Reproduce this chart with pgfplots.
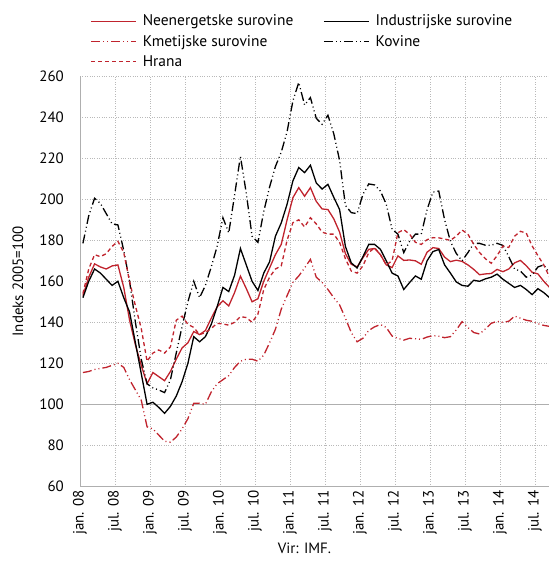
\documentclass[border=0pt]{standalone}
\usepackage{fontspec}
\setmainfont{PT Sans}
\usepackage{pgfplots}
\usepackage{pgfplotstable}
\pgfplotsset{compat=1.18}
\definecolor{cred}{RGB}{192,35,45}
\definecolor{gridgray}{RGB}{185,185,185}
\definecolor{axgray}{RGB}{175,175,175}

\pgfplotstableread{
k ne ind hr kov km
0 153 152 154 178.5 115.5
1 162 160 166 192 116
2 168.5 166 173 200.5 117
3 167 164 172 198 117.5
4 166 161 173.5 193 118
5 167.5 158 177 188 119
6 168 160 179.5 187.5 120
7 157 152 174 175 118
8 141 145 160 160 112
9 129 130 148 140 107
10 119 115 137 122 102
11 110 100 121 110 89
12 115.5 101 125 108 88
13 113.5 98.5 126.5 107 85
14 111.5 95.6 125 105.7 82
15 116 99 128 112 81.5
16 122 104 141 125 84
17 127.5 111 143 138 88
18 130 120 139 150 93
19 135.5 133 137.5 160 100.5
20 134 130.5 134 152 100.5
21 136 133 135 158 100
22 142 139 137 167 106
23 147.5 147.5 139.5 177 110
24 150.5 157 139.2 191 112
25 148 155 138.6 183.6 114
26 154.5 163 140 202 118
27 162.5 176 142.8 221 121
28 156.5 168 142.3 203 122
29 150 160 140 182 122
30 151.5 155.5 144 179 121
31 160 164 156 194 124
32 166.5 169.5 162 206 130
33 173 182 166 216 136.6
34 178 188.5 167.5 223 146.4
35 190 197.6 180 233 153
36 200.8 209 188.6 248 159.5
37 205.7 215.5 190 257 162.6
38 201.5 213 186.5 246 166.5
39 205.7 216.6 191 249.6 170.7
40 199 208 188 239.5 162
41 195.3 205 184 236.6 159.5
42 195 207.3 183 241 156
43 190.5 201 183 232 152
44 184 195 179 219 148.5
45 173.5 177 171 197 142
46 168.3 169 165 193.5 135
47 167 166.5 164 193 130.5
48 171.5 172 167.5 202.4 132.2
49 175.6 178 174 207.5 136
50 176 178 176.4 207 137.8
51 173 175.6 173 204 138.9
52 168 170 168 197.6 137.5
53 166.7 164 170 185.4 133.3
54 172.4 162.6 183.7 183 132.2
55 170.2 156 185.2 174 131.3
56 170.4 159.4 183 179.5 132.2
57 170 162.6 179 183 132
58 168.3 161 178 183 131.7
59 174.2 170 180.3 195 132.8
60 176.4 174.5 181.3 203.5 133.5
61 176 175.5 181.2 204 133.2
62 171.8 168 180.6 190 132.5
63 169.6 164 180 179.5 133
64 170.3 159.7 182 173.6 136.3
65 169.7 158 185 170 140.3
66 168 157.6 183 174 137.5
67 165.8 160.5 178 178.5 135
68 163.2 160 174 178.5 134.3
69 163.6 161.2 171 177.6 136.8
70 163.8 162 168.8 177.6 139.5
71 165.8 163.5 172.5 178.5 140.5
72 164.7 161 177.2 177.5 140
73 166 159 176.5 172 140.5
74 169 157 182 166 143
75 170.2 158 184.4 165 142
76 167.6 156 183.5 162 141
77 164.4 153.5 177.3 163 140.5
78 163.6 156.4 172.5 167 139.3
79 160 154.5 168 168 138.5
80 157 152 162 164 138
}\datatable

\begin{document}
\fontsize{15}{18}\selectfont
\begin{tikzpicture}
\useasboundingbox (0,0) rectangle (549bp,561bp);
\begin{axis}[
  at={(80bp,74.7bp)}, anchor=south west,
  scale only axis, width=469bp, height=410bp,
  xmin=0, xmax=80.4, ymin=60, ymax=260,
  ytick={60,80,...,260},
  xtick={0,6,...,78},
  xticklabels={jan. 08,jul. 08,jan. 09,jul. 09,jan. 10,jul. 10,jan. 11,jul. 11,jan. 12,jul. 12,jan. 13,jul. 13,jan. 14,jul. 14},
  x tick label style={rotate=90, anchor=east, font=\fontsize{15}{18}\selectfont, xshift=1bp},
  y tick label style={font=\fontsize{15}{18}\selectfont, xshift=-11bp},
  /pgf/number format/assume math mode=true,
  major tick length=0pt,
  axis x line*=bottom, axis y line*=left,
  axis line style={axgray, line width=1bp, -},
  grid=major,
  major grid style={gridgray, dotted, line width=0.8bp},
  extra y ticks={100}, extra y tick labels={},
  extra y tick style={grid=major, major grid style={axgray, solid, line width=1bp}},
  ylabel={Indeks 2005=100},
  ylabel style={font=\fontsize{15}{18}\selectfont, yshift=6bp},
  xlabel={Vir: IMF.},
  xlabel style={font=\fontsize{15}{18}\selectfont, xshift=-10bp, yshift=2bp},
  legend columns=2,
  legend style={at={(0.022,1.16)}, anchor=north west, draw=none, fill=none,
    font=\fontsize{15.5}{18}\selectfont, row sep=3bp, inner xsep=0pt,
    /tikz/every even column/.append style={column sep=28bp}},
  legend cell align=left,
  legend image code/.code={\draw[line width=1.3bp,#1] (0bp,0bp) -- (45bp,0bp); \path (49bp,0bp);},
]
\addplot[cred, solid, line width=1.3bp] table[x expr=\thisrow{k}+0.5, y=ne] {\datatable};
\addlegendentry{Neenergetske surovine}
\addplot[black, solid, line width=1.3bp] table[x expr=\thisrow{k}+0.5, y=ind] {\datatable};
\addlegendentry{Industrijske surovine}
\addplot[cred, line width=1.3bp, dash pattern=on 9bp off 3bp on 1bp off 3bp on 1bp off 3bp] table[x expr=\thisrow{k}+0.5, y=km] {\datatable};
\addlegendentry{Kmetijske surovine}
\addplot[black, line width=1.3bp, dash pattern=on 9bp off 3bp on 1bp off 3bp on 1bp off 3bp] table[x expr=\thisrow{k}+0.5, y=kov] {\datatable};
\addlegendentry{Kovine}
\addplot[cred, line width=1.3bp, dash pattern=on 4bp off 3bp] table[x expr=\thisrow{k}+0.5, y=hr] {\datatable};
\addlegendentry{Hrana}
\end{axis}
\end{tikzpicture}
\end{document}
